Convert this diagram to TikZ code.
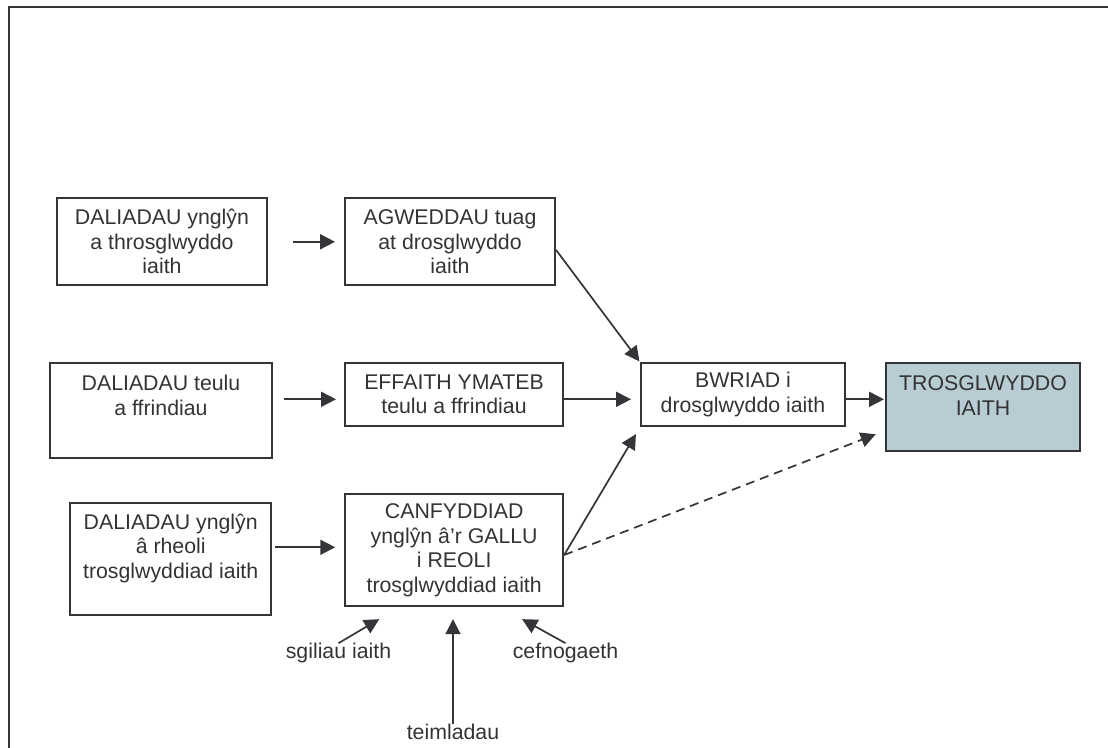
\documentclass[tikz,border=0pt]{standalone}
\usepackage{fontspec}
\setmainfont{Liberation Sans}
\usetikzlibrary{arrows.meta}
\definecolor{ink}{RGB}{52,52,57}
\definecolor{txt}{RGB}{51,51,51}
\definecolor{tfill}{RGB}{184,204,212}
\newcommand\lblfont{\fontsize{21.3}{24.5}\selectfont}
\begin{document}
\begin{tikzpicture}[x=1pt,y=-1pt,
  box/.style={draw=ink,line width=1.9pt,inner sep=0pt,text=txt,align=center,font=\lblfont},
  plain/.style={inner sep=0pt,text=txt,align=center,font=\lblfont},
  arr/.style={draw=ink,line width=1.7pt,-{Triangle[length=15pt,width=15pt]}},
  dashline/.style={dash pattern=on 9pt off 6pt},
]
\useasboundingbox (0,0) rectangle (1108,747);
\draw[ink,line width=2.3pt] (9,750) -- (9,7) -- (1110,7);

% row 1
\node[box,minimum width=210,minimum height=87] (a1) at (162,241.8) {DALIADAU ynglŷn\\a throsglwyddo\\iaith};
\node[box,minimum width=210,minimum height=87] (a2) at (450,241.8) {AGWEDDAU tuag\\at drosglwyddo\\iaith};

% row 2
\node[box,minimum width=222,minimum height=95] (b1) at (161,410.5) {};
\node[plain] (b1t) at (161,395.5) {DALIADAU teulu\\a ffrindiau};
\node[box,minimum width=218,minimum height=63] (eff) at (454,394.5) {EFFAITH YMATEB\\teulu a ffrindiau};
\node[box,minimum width=204,minimum height=63] (bw) at (743,394.7) {BWRIAD i\\drosglwyddo iaith};
\node[box,fill=tfill,minimum width=194,minimum height=87.4] (tr) at (983,407) {};
\node[plain] (trt) at (983,395.8) {TROSGLWYDDO\\IAITH};

% row 3
\node[box,minimum width=201,minimum height=112] (c1) at (170.7,558.8) {};
\node[plain] (c1t) at (170.7,548.3) {DALIADAU ynglŷn\\â rheoli\\trosglwyddiad iaith};
\node[box,minimum width=218,minimum height=112] (c2) at (454.2,550.2) {CANFYDDIAD\\ynglŷn â’r GALLU\\i REOLI\\trosglwyddiad iaith};

% factor labels
\node[plain] (sg) at (338.5,653.3) {sgiliau iaith};
\node[plain] (te) at (453,732) {teimladau};
\node[plain] (ce) at (565.5,653.3) {cefnogaeth};

\coordinate (r2) at (0,399.3);
\coordinate (r3) at (0,555);

% connectors
\draw[arr,shorten <=25pt,shorten >=9pt] (a1) -- (a2);
\draw[arr,shorten <=11pt,shorten >=8pt] (b1.east |- r2) -- (eff.west |- r2);
\draw[arr,shorten >=9pt] (eff.east |- r2) -- (bw.west |- r2);
\draw[arr,shorten >=1pt] (bw.east |- r2) -- (tr.west |- r2);
\draw[arr,shorten <=3pt,shorten >=9pt] (c1.east |- 0,547.3) -- (c2.west |- 0,547.3);
\draw[arr,shorten >=1pt] ([yshift=-8pt]a2.east) -- (bw.north west);
\draw[arr,shorten >=8pt] (c2.east |- r3) -- (bw.south west);
\draw[arr,dashline,shorten >=10pt] (c2.east |- r3) -- ([yshift=21pt]tr.south west);
\draw[arr] (sg.north) -- ([xshift=35pt,yshift=-12pt]c2.south west);
\draw[arr] (ce.north) -- ([xshift=-42pt,yshift=-12pt]c2.south east);
\draw[arr,shorten >=12pt] (te.north) -- (te.north |- c2.south);
\end{tikzpicture}
\end{document}
